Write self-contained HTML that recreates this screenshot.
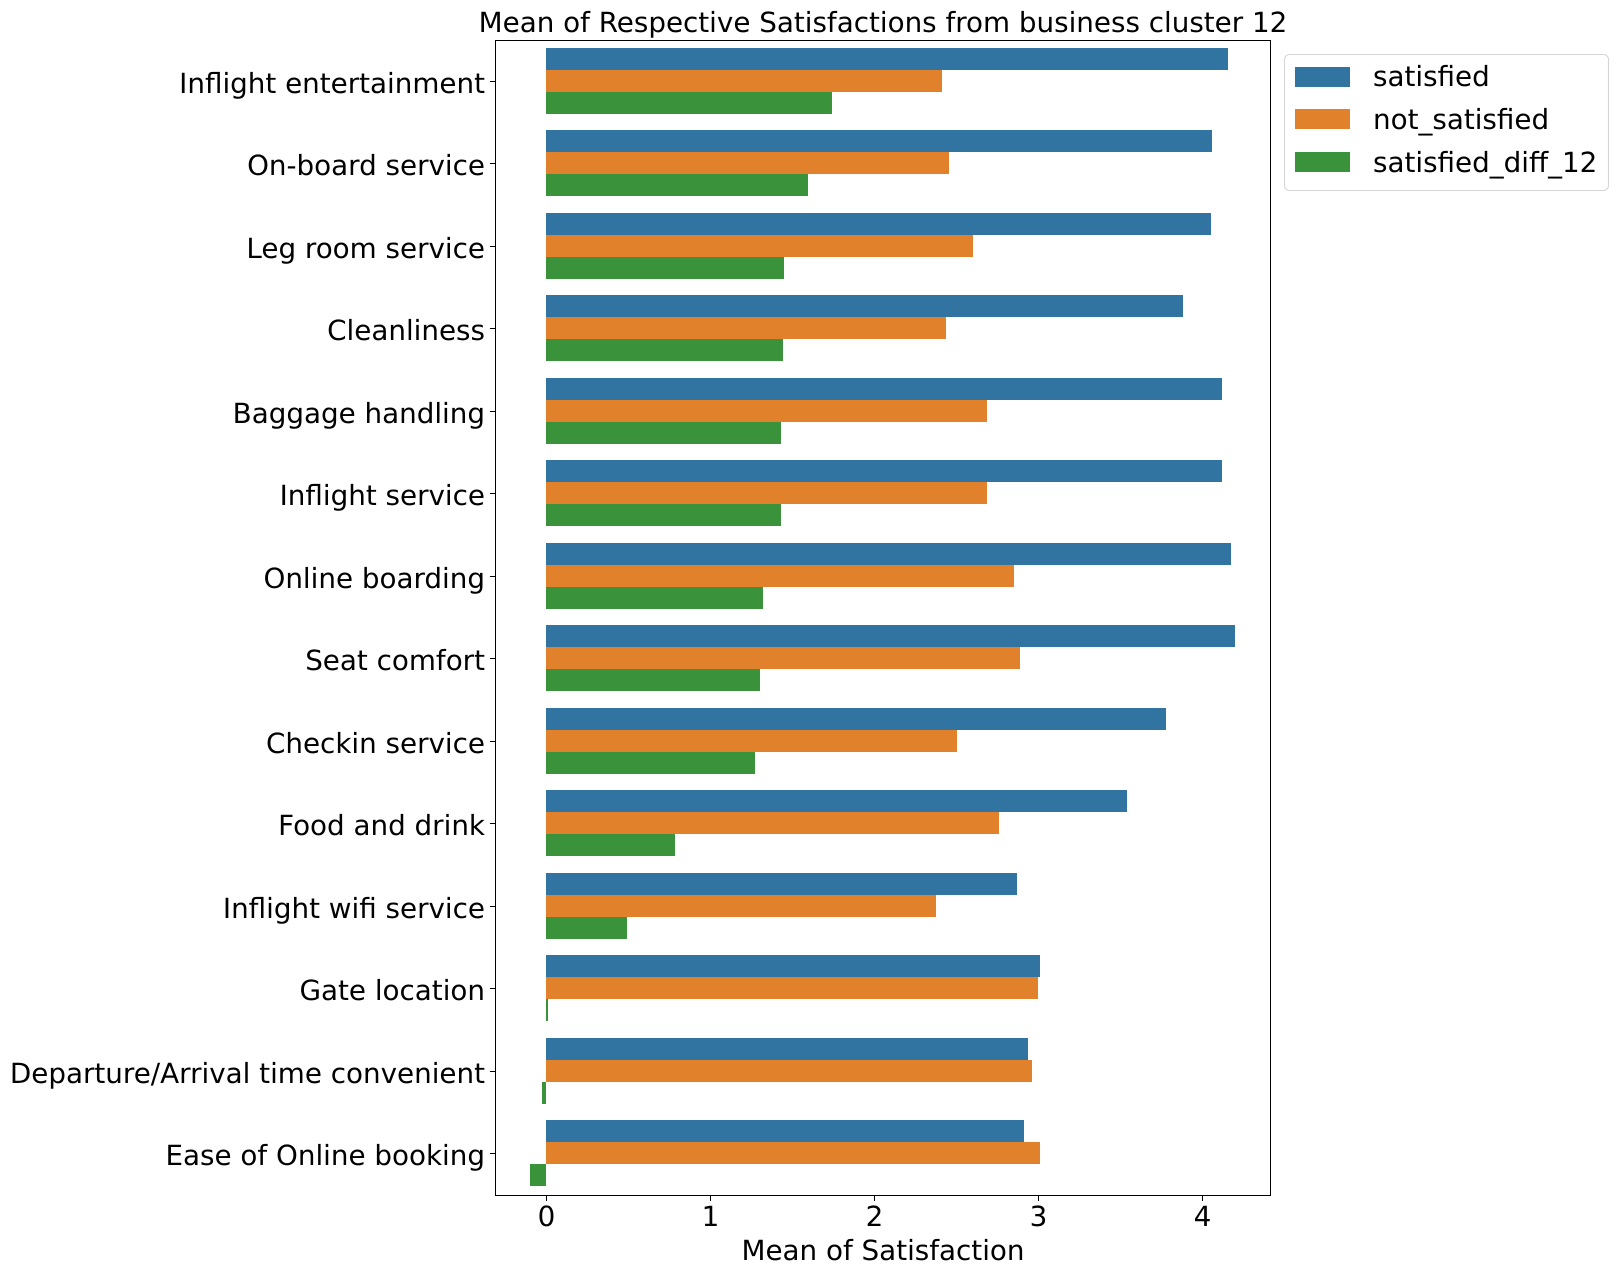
<!DOCTYPE html>
<html lang="en">
<head>
<meta charset="utf-8">
<title>Mean of Respective Satisfactions from business cluster 12</title>
<style>
  html, body { margin: 0; padding: 0; background: #fff; }
  svg { display: block; }
  text { font-family: "DejaVu Sans", "Liberation Sans", sans-serif; fill: #000; text-rendering: geometricPrecision; }
</style>
</head>
<body>
<svg id="chart" xmlns="http://www.w3.org/2000/svg" width="1618" height="1276" viewBox="0 0 1618 1276">
  <rect x="0" y="0" width="1618" height="1276" fill="#ffffff"/>
  <g id="bars"></g>
  <g id="y-axis"></g>
  <g id="x-axis"></g>
  <rect x="495" y="40" width="1" height="1156" fill="#000"/>
  <rect x="1270" y="40" width="1" height="1156" fill="#000"/>
  <rect x="495" y="40" width="776" height="1" fill="#000"/>
  <rect x="495" y="1195" width="776" height="1" fill="#000"/>
  <text x="883" y="32" text-anchor="middle" font-size="27.78">Mean of Respective Satisfactions from business cluster 12</text>
  <text x="883" y="1260" text-anchor="middle" font-size="27.78">Mean of Satisfaction</text>
  <g>
    <rect x="1284.5" y="54.5" width="324" height="136" rx="5" ry="5" fill="#fff" fill-opacity="0.8" stroke="#d6d6d6" stroke-width="1.1"/>
    <rect x="1295" y="67" width="55" height="20" fill="#3274a1"/>
    <text x="1373" y="86" font-size="27.78">satisfied</text>
    <rect x="1295" y="109" width="55" height="20" fill="#e1812c"/>
    <text x="1373" y="129" font-size="27.78">not_satisfied</text>
    <rect x="1295" y="152" width="55" height="20" fill="#3a923a"/>
    <text x="1373" y="172" font-size="27.78">satisfied_diff_12</text>
  </g>
</svg>
<script>
const categories = ["Inflight entertainment","On-board service","Leg room service","Cleanliness","Baggage handling","Inflight service","Online boarding","Seat comfort","Checkin service","Food and drink","Inflight wifi service","Gate location","Departure/Arrival time convenient","Ease of Online booking"];
const satisfied = [4.159,4.061,4.055,3.884,4.122,4.122,4.177,4.201,3.780,3.543,2.872,3.012,2.939,2.915];
const notSatisfied = [2.415,2.457,2.604,2.439,2.689,2.689,2.854,2.890,2.506,2.762,2.378,3.000,2.963,3.012];
const satisfiedDiff12 = [1.744,1.598,1.451,1.445,1.433,1.433,1.323,1.305,1.274,0.787,0.494,0.012,-0.024,-0.098];
const xTickValues = [0,1,2,3,4];

const NS = 'http://www.w3.org/2000/svg';
const PLOT_TOP = 39.77;
const BAND = 82.46;
const BAR_H = 22;

function xScale(v) { return 546 + 164 * v; }
function yCenter(i) { return PLOT_TOP + (i + 0.5) * BAND; }
function mk(tag, parent) {
  const el = document.createElementNS(NS, tag);
  parent.appendChild(el);
  return el;
}

const barsG = document.getElementById('bars');
const yAxisG = document.getElementById('y-axis');
const xAxisG = document.getElementById('x-axis');

function drawSeries(values, offset, color, seriesName) {
  values.forEach(function (v, i) {
    const x0 = xScale(0);
    const x1 = Math.round(xScale(v));
    const top = Math.round(yCenter(i) - 1.5 * BAR_H) + offset * BAR_H;
    const r = mk('rect', barsG);
    r.setAttribute('x', Math.min(x0, x1));
    r.setAttribute('y', top);
    r.setAttribute('width', Math.abs(x1 - x0));
    r.setAttribute('height', BAR_H);
    r.setAttribute('fill', color);
    r.setAttribute('shape-rendering', 'crispEdges');
    
    
  });
}
drawSeries(satisfied, 0, '#3274a1', 'satisfied');
drawSeries(notSatisfied, 1, '#e1812c', 'not-satisfied');
drawSeries(satisfiedDiff12, 2, '#3a923a', 'satisfied-diff-12');

categories.forEach(function (label, i) {
  const cy = yCenter(i);
  const tick = mk('rect', yAxisG);
  tick.setAttribute('x', 490);
  tick.setAttribute('y', Math.round(cy));
  tick.setAttribute('width', 5);
  tick.setAttribute('height', 1);
  tick.setAttribute('fill', '#000');
  
  
  const t = mk('text', yAxisG);
  t.setAttribute('x', 485);
  t.setAttribute('y', Math.round(cy) + 12);
  t.setAttribute('text-anchor', 'end');
  t.setAttribute('font-size', '27.78');
  t.textContent = label;
  
  
});

xTickValues.forEach(function (v) {
  const x = xScale(v);
  const tick = mk('rect', xAxisG);
  tick.setAttribute('x', x);
  tick.setAttribute('y', 1196);
  tick.setAttribute('width', 1);
  tick.setAttribute('height', 5);
  tick.setAttribute('fill', '#000');
  
  
  const t = mk('text', xAxisG);
  t.setAttribute('x', x + 0.5);
  t.setAttribute('y', 1226);
  t.setAttribute('text-anchor', 'middle');
  t.setAttribute('font-size', '27.78');
  t.textContent = String(v);
  
  
});
</script>
</body>
</html>
